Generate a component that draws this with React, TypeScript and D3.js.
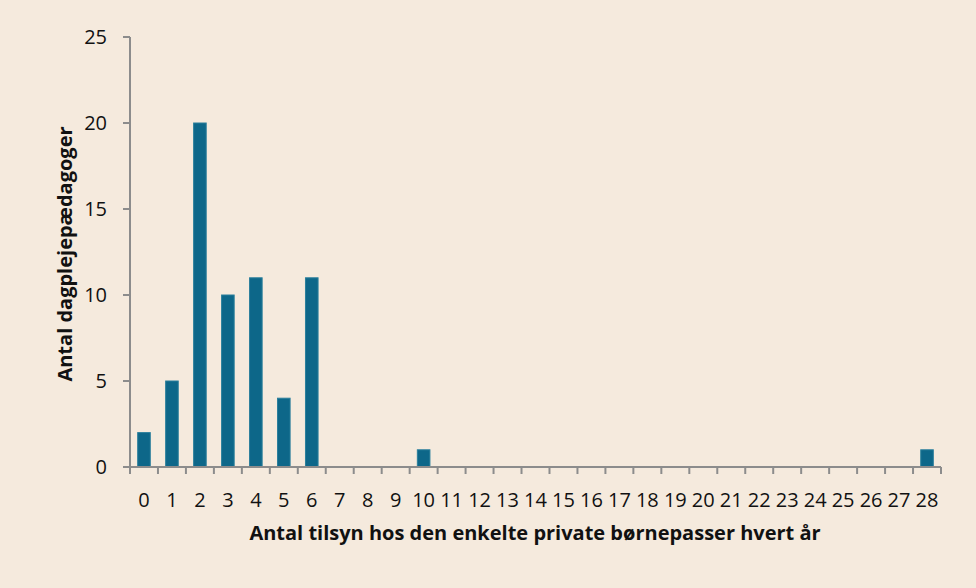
import React from "react";
import * as d3 from "d3";

const categories: string[] = Array.from({ length: 29 }, (_, i) => String(i));
const values: number[] = [2, 5, 20, 10, 11, 4, 11, 0, 0, 0, 1, 0, 0, 0, 0, 0, 0, 0, 0, 0, 0, 0, 0, 0, 0, 0, 0, 0, 1];
const yTicks: number[] = [0, 5, 10, 15, 20, 25];
const xTitle = "Antal tilsyn hos den enkelte private børnepasser hvert år";
const yTitle = "Antal dagplejepædagoger";

const W = 976;
const H = 588;
const left = 130;
const right = 941;
const top = 37;
const bottom = 467;
const font = "'Open Sans', 'Segoe UI', sans-serif";
const axisColor = "#8c8c8c";

export default function App() {
  const x = d3.scaleBand<string>().domain(categories).range([left, right]).paddingInner(0.55).paddingOuter(0.275);
  const xb = d3.scaleBand<string>().domain(categories).range([left, right]);
  const y = d3.scaleLinear().domain([0, 25]).range([bottom, top]);
  return (
    <svg width={W} height={H} style={{ position: "absolute", left: 0, top: 0 }} fontFamily={font}>
      <rect x={0} y={0} width={W} height={H} fill="#f5eadd" />
      {categories.map((c, i) =>
        values[i] > 0 ? (
          <rect
            key={c}
            x={x(c)}
            y={y(values[i])}
            width={x.bandwidth()}
            height={y(0) - y(values[i])}
            fill="#0d6789"
            stroke="#2a7f9c"
            strokeWidth={1}
          />
        ) : null
      )}
      <line x1={left} x2={left} y1={top} y2={bottom} stroke={axisColor} strokeWidth={2} />
      {yTicks.map((t) => (
        <g key={t}>
          <line x1={left - 7} x2={left} y1={y(t)} y2={y(t)} stroke={axisColor} strokeWidth={2} />
          <text x={107} y={y(t)} dy="0.36em" textAnchor="end" fontSize={20} fill="#111">
            {t}
          </text>
        </g>
      ))}
      <line x1={left} x2={right} y1={bottom} y2={bottom} stroke={axisColor} strokeWidth={2} />
      {categories.map((c) => (
        <line key={"t" + c} x1={xb(c)} x2={xb(c)} y1={bottom} y2={bottom + 7} stroke={axisColor} strokeWidth={2} />
      ))}
      <line x1={right} x2={right} y1={bottom} y2={bottom + 7} stroke={axisColor} strokeWidth={2} />
      {categories.map((c) => (
        <text key={"l" + c} x={(xb(c) as number) + xb.bandwidth() / 2} y={499.5} dy="0.36em" textAnchor="middle" fontSize={20} fill="#111">
          {c}
        </text>
      ))}
      <text x={535} y={533} dy="0.36em" textAnchor="middle" fontSize={20} fontWeight="bold" fill="#111">
        {xTitle}
      </text>
      <text transform={`translate(65,254) rotate(-90)`} dy="0.36em" textAnchor="middle" fontSize={20} fontWeight="bold" fill="#111">
        {yTitle}
      </text>
    </svg>
  );
}
